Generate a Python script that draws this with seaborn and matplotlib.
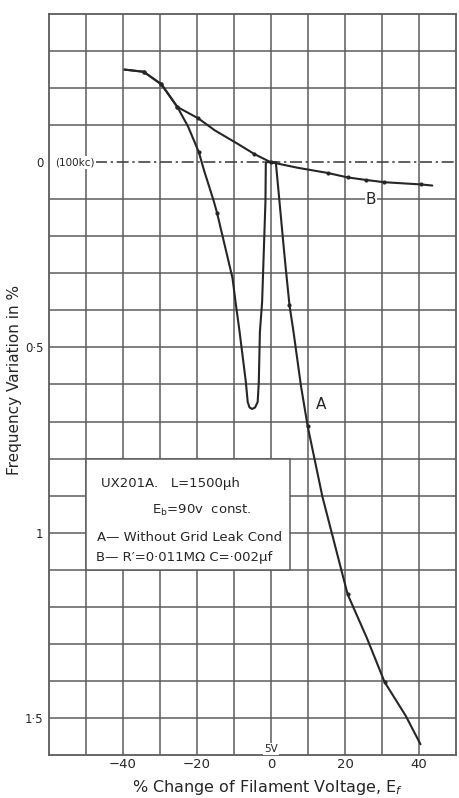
import numpy as np
import pandas as pd
import matplotlib.pyplot as plt
import seaborn as sns
from matplotlib.patches import Rectangle

# Curve A - without grid leak condenser (traced in drawing order, it loops back near 0)
a_x = [-39.6, -34.4, -29.6, -25.3, -22.4, -19.5, -18.1, -15.5, -14.6, -10.4, -9.6, -8.5,
       -6.8, -6.3, -5.8, -5.1, -4.3, -3.6, -3.3, -3.0, -2.4, -1.5, -1.4, 1.3, 2.3, 3.3,
       4.0, 5.0, 6.1, 8.1, 9.9, 13.9, 20.7, 25.9, 30.7, 36.4, 40.4]
a_y = [-0.250, -0.244, -0.210, -0.149, -0.096, -0.027, 0.022, 0.104, 0.136, 0.313, 0.376, 0.457,
       0.593, 0.647, 0.662, 0.666, 0.662, 0.647, 0.594, 0.458, 0.377, 0.106, 0.0, 0.0, 0.107, 0.215,
       0.288, 0.386, 0.459, 0.604, 0.712, 0.903, 1.166, 1.284, 1.403, 1.494, 1.571]
a_measured = [0, 1, 1, 1, 0, 1, 0, 0, 1, 0, 0, 0,
              0, 0, 0, 0, 0, 0, 0, 0, 0, 0, 0, 0, 0, 0,
              0, 1, 0, 0, 1, 0, 1, 0, 1, 0, 0]

# Curve B - R'=0.011 Mohm, C=.002 uF
b_x = [-39.6, -34.4, -29.6, -25.3, -19.6, -15.2, -8.9, -4.5, -0.9, 0.0, 7.2, 15.3, 20.7, 25.7, 30.6, 40.5, 43.6]
b_y = [-0.250, -0.244, -0.210, -0.149, -0.118, -0.086, -0.049, -0.022, -0.004, 0.0, 0.015, 0.029, 0.041, 0.048, 0.054, 0.060, 0.063]
b_measured = [0, 1, 1, 1, 1, 0, 0, 1, 0, 1, 0, 1, 1, 1, 1, 1, 0]

x_ticks = [-40, -20, 0, 20, 40]
y_ticks = [0, 0.5, 1, 1.5]
y_ticklabels = ["0", "0·5", "1", "1·5"]

note_lines = ["UX201A.   L=1500μh",
              r"E$_\mathrm{b}$=90v  const.",
              "A— Without Grid Leak Cond",
              "B— R′=0·011MΩ C=·002μf"]

df_a = pd.DataFrame({"x": a_x, "y": a_y, "measured": a_measured})
df_b = pd.DataFrame({"x": b_x, "y": b_y, "measured": b_measured})

sns.set_style("white")
plt.rcParams['font.family'] = ['DejaVu Sans']

INK = "#262626"
GRID = "#5c5c5c"

fig = plt.figure(figsize=(4.6, 7.98), dpi=100)
ax = fig.add_axes([49/460, 43/798, 407/460, 741/798])

ax.set_xlim(-60, 50)
ax.set_ylim(1.6, -0.4)

# grid: every 10 % horizontally, every 0.1 % vertically (the zero line is drawn dash-dot)
x_grid = np.arange(-50, 41, 10)
y_grid = [v for v in np.round(np.arange(-0.3, 1.51, 0.1), 1) if v != 0]
ax.set_xticks(x_ticks)
ax.set_xticks(x_grid, minor=True)
ax.set_yticks(y_ticks, y_ticklabels)
ax.set_yticks(y_grid, minor=True)
ax.xaxis.remove_overlapping_locs = False
ax.yaxis.remove_overlapping_locs = False
ax.grid(which='minor', color=GRID, lw=1.1)
ax.grid(which='major', visible=False)
ax.tick_params(which='both', length=0)
ax.tick_params(axis='x', labelsize=9.5, pad=2, colors=INK)
ax.tick_params(axis='y', labelsize=8.5, pad=4, colors=INK)
ax.set_axisbelow(True)
for s in ax.spines.values():
    s.set_color(GRID)
    s.set_linewidth(1.3)

# zero reference (100 kc)
ax.axhline(0, xmin=(-47.6 + 60) / 110, xmax=1, color="#444444", lw=1.2,
           dashes=(7.2, 2.2, 1.4, 2.2), zorder=1.5)
ax.text(-58.4, 0, "(100kc)", fontsize=7.5, va='center', ha='left', color=INK,
        bbox=dict(facecolor='white', edgecolor='none', pad=1), zorder=3)

# curves
sns.lineplot(data=df_a, x="x", y="y", sort=False, estimator=None, color=INK, lw=1.5, ax=ax, zorder=4)
sns.lineplot(data=df_b, x="x", y="y", sort=False, estimator=None, color=INK, lw=1.5, ax=ax, zorder=4)
sns.scatterplot(data=df_a[df_a["measured"] == 1], x="x", y="y", color=INK, s=9, linewidth=0, ax=ax, zorder=5)
sns.scatterplot(data=df_b[df_b["measured"] == 1], x="x", y="y", color=INK, s=9, linewidth=0, ax=ax, zorder=5)

ax.text(13.4, 0.655, "A", fontsize=11, ha='center', va='center', color=INK, zorder=6)
ax.text(27, 0.1, "B", fontsize=11, ha='center', va='center', color=INK,
        bbox=dict(facecolor='white', edgecolor='none', pad=0.5), zorder=6)
ax.text(0, 1.583, "5V", fontsize=7.5, ha='center', va='center', color=INK,
        bbox=dict(facecolor='white', edgecolor='none', pad=0.8), zorder=3)

# note box
ax.add_patch(Rectangle((-50, 0.8), 55.2, 0.3, facecolor='white', edgecolor=GRID, lw=1.1, zorder=2))
note_pos = [(-45.9, 0.866), (-32.2, 0.94), (-47.1, 1.012), (-47.2, 1.066)]
for (tx, ty), line in zip(note_pos, note_lines):
    ax.text(tx, ty, line, fontsize=9.5, ha='left', va='center', color=INK, zorder=6)

ax.set_xlabel(r"% Change of Filament Voltage, E$_f$", fontsize=11.5, color=INK)
ax.xaxis.set_label_coords((267 - 49) / 407, -0.031)
ax.set_ylabel("Frequency Variation in %", fontsize=11, color=INK)
ax.yaxis.set_label_coords((22 - 49) / 407, (798 - 43 - 380) / 741)

fig.savefig("out.png", dpi=100)
